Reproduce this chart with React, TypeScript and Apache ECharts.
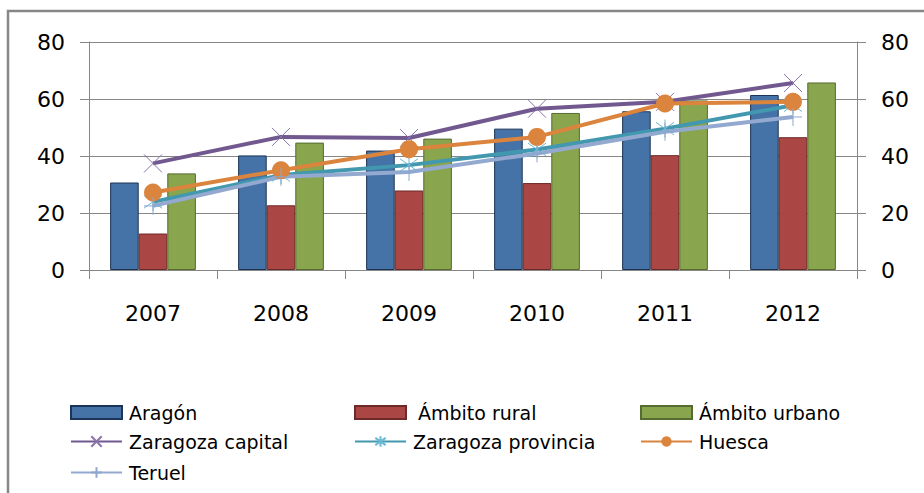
import React, { useEffect, useRef } from "react";
import * as echarts from "echarts";

const years = ["2007", "2008", "2009", "2010", "2011", "2012"];
const aragon = [30.7, 40.2, 41.9, 49.6, 55.7, 61.4];
const ambitoRural = [12.8, 22.7, 27.9, 30.5, 40.3, 46.6];
const ambitoUrbano = [33.9, 44.7, 46.1, 55.1, 59.5, 65.8];
const zaragozaCapital = [37.4, 46.7, 46.3, 56.6, 59.0, 65.6];
const zaragozaProvincia = [23.9, 33.3, 36.8, 42.3, 49.6, 57.8];
const huesca = [27.2, 35.0, 42.4, 46.7, 58.4, 59.0];
const teruel = [22.5, 32.7, 34.4, 40.9, 48.5, 53.7];
const yTicks = [0, 20, 40, 60, 80];

const FONT = "DejaVu Sans";
const GRID = "#868686";

const X_PATH = "path://M0,0L10,10M10,0L0,10";
const STAR_PATH = "path://M5,0L5,10M0.7,1.5L9.3,8.5M9.3,1.5L0.7,8.5";
const PLUS_PATH = "path://M5,0L5,10M0,5L10,5";

export default function App() {
  const ref = useRef<HTMLDivElement>(null);
  useEffect(() => {
    if (!ref.current) return;
    const chart = echarts.init(ref.current, undefined, { renderer: "svg" });

    const bar = (name: string, data: number[], color: string, border: string) => ({
      name,
      type: "bar",
      data,
      barGap: "0%",
      barCategoryGap: "33%",
      itemStyle: { color, borderColor: border, borderWidth: 1 },
      yAxisIndex: 0,
    });
    const line = (
      name: string,
      data: number[],
      color: string,
      symbol: string,
      symbolSize: number,
      markerStroke: string,
      filled: boolean
    ) => ({
      name,
      type: "line",
      data,
      symbol,
      symbolSize,
      showSymbol: true,
      lineStyle: { color, width: 4 },
      itemStyle: filled
        ? { color }
        : { color: "rgba(0,0,0,0)", borderColor: markerStroke, borderWidth: 1 },
      yAxisIndex: 0,
    });

    const legendBase = {
      padding: 0,
      itemWidth: 51,
      itemHeight: 13,
      textStyle: { fontSize: 19, fontFamily: FONT, color: "#000", padding: [0, 0, 0, 2] },
    };
    const leg = (name: string, left: number, top: number, extraPad = 0, icon?: string) => ({
      ...legendBase,
      ...(icon ? { icon } : {}),
      data: [name],
      left,
      top,
      textStyle: { ...legendBase.textStyle, padding: [0, 0, 0, 2 + extraPad] },
    });

    const yAxisCommon = {
      type: "value",
      min: yTicks[0],
      max: yTicks[yTicks.length - 1],
      interval: 20,
      axisLine: { show: true, lineStyle: { color: GRID, width: 1 } },
      axisTick: { show: true, length: 9, lineStyle: { color: GRID } },
      axisLabel: { fontSize: 22, fontFamily: FONT, color: "#000", margin: 24 },
    };

    chart.setOption({
      animation: false,
      backgroundColor: "#fff",
      grid: { left: 89, right: 67, top: 42, bottom: 223, containLabel: false },
      xAxis: {
        type: "category",
        data: years,
        boundaryGap: true,
        axisLine: { lineStyle: { color: GRID, width: 1 } },
        axisTick: { show: true, length: 9, lineStyle: { color: GRID } },
        axisLabel: { fontSize: 22, fontFamily: FONT, color: "#000", margin: 32 },
      },
      yAxis: [
        { ...yAxisCommon, position: "left", splitLine: { show: true, lineStyle: { color: GRID, width: 1 } } },
        { ...yAxisCommon, position: "right", splitLine: { show: false } },
      ],
      legend: [
        leg("Aragón", 70, 403, 0, "rect"),
        leg("Ámbito rural", 354, 403, 5, "rect"),
        leg("Ámbito urbano", 640, 403, 0, "rect"),
        leg("Zaragoza capital", 70, 432),
        leg("Zaragoza provincia", 354, 432),
        leg("Huesca", 640, 432),
        leg("Teruel", 70, 463),
      ],
      graphic: [
        {
          type: "rect",
          shape: { x: 8, y: 11, width: 1000, height: 1000 },
          style: { fill: "none", stroke: "#878787", lineWidth: 2.5 },
          silent: true,
        },
      ],
      series: [
        bar("Aragón", aragon, "#4572A7", "#1C3457"),
        bar("Ámbito rural", ambitoRural, "#AA4643", "#6E2A28"),
        bar("Ámbito urbano", ambitoUrbano, "#89A54E", "#556B2F"),
        line("Zaragoza capital", zaragozaCapital, "#71588F", X_PATH, 18, "#8A73AC", false),
        line("Zaragoza provincia", zaragozaProvincia, "#4198AF", STAR_PATH, 18, "#6CB9D3", false),
        line("Huesca", huesca, "#DB843D", "circle", 18, "#DB843D", true),
        line("Teruel", teruel, "#93A9CF", PLUS_PATH, 18, "#8DA6D0", false),
      ],
    });
    return () => chart.dispose();
  }, []);
  return (
    <div
      ref={ref}
      style={{ position: "fixed", left: 0, top: 0, width: 924, height: 493, background: "#fff" }}
    />
  );
}
